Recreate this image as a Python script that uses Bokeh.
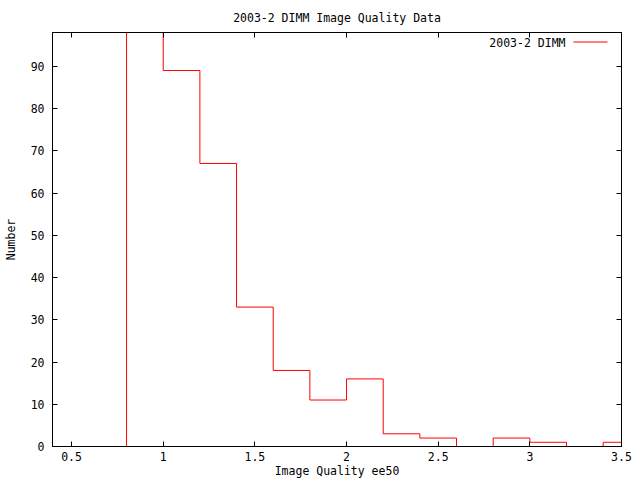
from bokeh.plotting import figure
from bokeh.models import (Range1d, LinearAxis, FixedTicker, Label, BoxAnnotation,
                          CustomJSTickFormatter)
from bokeh.embed import file_html
from bokeh.resources import INLINE

# bin left edges and counts (first bin exceeds the plotted range)
bin_left = [0.6, 0.8, 1.0, 1.2, 1.4, 1.6, 1.8, 2.0, 2.2, 2.4, 2.6, 2.8, 3.0, 3.2, 3.4, 3.6]
counts = [0, 99, 89, 67, 33, 18, 11, 16, 3, 2, 0, 2, 1, 0, 1, 1]
x_ticks = [0.5, 1.0, 1.5, 2.0, 2.5, 3.0, 3.5]
x_tick_labels = {0.5: "0.5", 1.0: "1", 1.5: "1.5", 2.0: "2", 2.5: "2.5", 3.0: "3", 3.5: "3.5"}
y_ticks = [0, 10, 20, 30, 40, 50, 60, 70, 80, 90]
series_name = "2003-2 DIMM"

FONT = "DejaVu Sans Mono"
FS = "11.5px"
RED = "#ff0000"

p = figure(width=640, height=480, output_backend="svg", toolbar_location=None,
           x_range=Range1d(0.396, 3.5), y_range=Range1d(0, 98),
           min_border_left=52, min_border_right=19, min_border_top=32, min_border_bottom=34)

p.title.text = "2003-2 DIMM Image Quality Data"
p.title.align = "center"
p.title.text_font = FONT
p.title.text_font_size = FS
p.title.text_font_style = "normal"
p.title.text_color = "black"
p.title.standoff = 15

p.xgrid.visible = False
p.ygrid.visible = False
p.outline_line_color = "black"
p.outline_line_width = 1

r = p.step(bin_left, counts, mode="after", line_color=RED, line_width=1)

for ax in p.xaxis:
    ax.ticker = FixedTicker(ticks=x_ticks)
    ax.major_label_overrides = x_tick_labels
    ax.axis_label = "Image Quality ee50"
    ax.major_label_standoff = 5
    ax.axis_label_standoff = 0
for ax in p.yaxis:
    ax.ticker = FixedTicker(ticks=y_ticks)
    ax.axis_label = "Number"
    ax.major_label_standoff = 8
    ax.axis_label_standoff = 10

for ax in list(p.xaxis) + list(p.yaxis):
    ax.major_tick_in = 5
    ax.major_tick_out = 0
    ax.minor_tick_in = 0
    ax.minor_tick_out = 0
    ax.major_label_text_font = FONT
    ax.major_label_text_font_size = FS
    ax.major_label_text_color = "black"
    ax.axis_label_text_font = FONT
    ax.axis_label_text_font_size = FS
    ax.axis_label_text_font_style = "normal"
    ax.axis_label_text_color = "black"
    ax.axis_line_color = "black"
    ax.major_tick_line_color = "black"

# mirror ticks (no labels)
blank = CustomJSTickFormatter(code="return ''")
top = LinearAxis(ticker=FixedTicker(ticks=x_ticks), formatter=blank,
                 major_tick_in=5, major_tick_out=0, minor_tick_in=0, minor_tick_out=0,
                 major_tick_line_color="black", axis_line_color="black")
right = LinearAxis(ticker=FixedTicker(ticks=y_ticks), formatter=blank,
                   major_tick_in=5, major_tick_out=0, minor_tick_in=0, minor_tick_out=0,
                   major_tick_line_color="black", axis_line_color="black")
p.add_layout(top, "above")
p.add_layout(right, "right")

# gnuplot-style key: text, then line sample to its right
key_text = Label(x=3.5, y=98, x_offset=-56, y_offset=-10, text=series_name,
                 text_align="right", text_baseline="middle",
                 text_font=FONT, text_font_size=FS, text_color="black")
p.add_layout(key_text)
key_line = BoxAnnotation(left=521, right=555, top=405, bottom=404,
                         left_units="screen", right_units="screen",
                         top_units="screen", bottom_units="screen",
                         fill_color=RED, fill_alpha=1, line_alpha=0)
p.add_layout(key_line)

open("out.html", "w").write(file_html(p, INLINE))
